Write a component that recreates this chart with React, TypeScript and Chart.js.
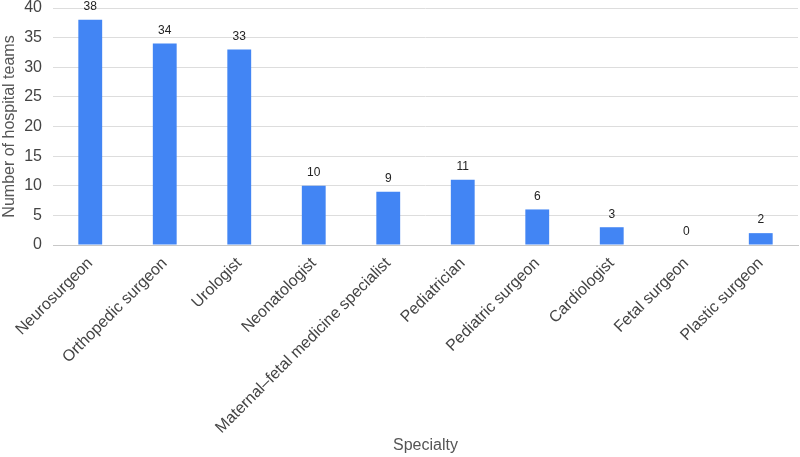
import React, { useEffect, useRef } from "react";
import { Chart, registerables } from "chart.js";

Chart.register(...registerables);

const categories = [
  "Neurosurgeon",
  "Orthopedic surgeon",
  "Urologist",
  "Neonatologist",
  "Maternal–fetal medicine specialist",
  "Pediatrician",
  "Pediatric surgeon",
  "Cardiologist",
  "Fetal surgeon",
  "Plastic surgeon",
];
const teamCounts = [38, 34, 33, 10, 9, 11, 6, 3, 0, 2];
const yTicks = [0, 5, 10, 15, 20, 25, 30, 35, 40];

const FONT = "'Liberation Sans', Arial, sans-serif";

const valueLabels = {
  id: "valueLabels",
  afterDatasetsDraw(chart: any) {
    const ctx = chart.ctx;
    const meta = chart.getDatasetMeta(0);
    ctx.save();
    ctx.font = `12px ${FONT}`;
    ctx.fillStyle = "#222";
    ctx.textAlign = "center";
    ctx.textBaseline = "bottom";
    meta.data.forEach((el: any, i: number) => {
      ctx.fillText(String(teamCounts[i]), el.x, el.y - 7);
    });
    ctx.restore();
  },
};

export default function App() {
  const ref = useRef<HTMLCanvasElement | null>(null);
  useEffect(() => {
    if (!ref.current) return;
    const chart = new Chart(ref.current, {
      type: "bar",
      data: {
        labels: categories,
        datasets: [
          {
            data: teamCounts,
            backgroundColor: "#4285F4",
            borderWidth: 0,
            categoryPercentage: 1,
            barPercentage: 0.32,
          },
        ],
      },
      options: {
        responsive: false,
        animation: false,
        layout: { padding: { top: 0, right: 2, left: 0, bottom: 0 } },
        plugins: {
          legend: { display: false },
          tooltip: { enabled: false },
        },
        scales: {
          x: {
            afterFit(scale: any) {
              scale.height = 212;
              scale.paddingLeft = 0;
              scale.paddingRight = 0;
            },
            grid: { display: false, drawTicks: false },
            border: { display: true, color: "#c8c8c8" },
            ticks: {
              color: "#444",
              font: { size: 16, family: FONT },
              minRotation: 45,
              maxRotation: 45,
              padding: 9,
              autoSkip: false,
            },
            title: {
              display: true,
              text: "Specialty",
              color: "#555",
              font: { size: 16, family: FONT },
              padding: { top: 0, bottom: 2 },
            },
          },
          y: {
            min: 0,
            max: 40,
            afterBuildTicks(scale: any) {
              scale.ticks = yTicks.map((v) => ({ value: v }));
            },
            afterFit(scale: any) {
              scale.width = 53;
              scale.paddingTop = 8;
              scale.paddingBottom = 0;
            },
            grid: { color: "#ddd", drawTicks: false },
            border: { display: false },
            ticks: {
              color: "#444",
              font: { size: 16, family: FONT },
              padding: 11,
            },
            title: {
              display: true,
              text: "Number of hospital teams",
              color: "#555",
              font: { size: 16, family: FONT },
              padding: { top: 0, bottom: 0 },
            },
          },
        },
      },
      plugins: [valueLabels],
    });
    return () => chart.destroy();
  }, []);
  return (
    <div style={{ position: "absolute", left: 0, top: 0, width: 800, height: 457, background: "#fff" }}>
      <canvas ref={ref} width={800} height={457} />
    </div>
  );
}
